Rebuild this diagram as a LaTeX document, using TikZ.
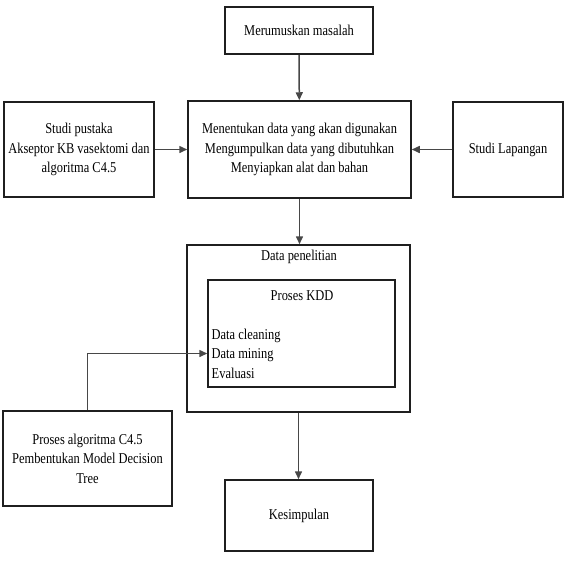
\documentclass[tikz,border=0pt]{standalone}
\usepackage{fontspec}
\setmainfont{Liberation Serif}[FakeStretch=0.83]
\usetikzlibrary{arrows.meta}
\begin{document}
\begin{tikzpicture}[x=1pt,y=-1pt,
  txt/.style={font=\fontsize{15}{19.5}\selectfont, inner sep=0pt},
  box/.style={txt, draw=black!88, line width=1.5pt, align=center},
  arr/.style={draw=black!72, line width=1.5pt, -{Triangle[length=8pt,width=7pt]}}]
\useasboundingbox (0,0) rectangle (568,574);
\node[box, minimum width=148pt, minimum height=47pt] (top) at (299,30.5) {Merumuskan masalah};
\node[box, minimum width=223pt, minimum height=97pt] (mid) at (299.5,149.5)
  {Menentukan data yang akan digunakan\\Mengumpulkan data yang dibutuhkan\\Menyiapkan alat dan bahan};
\node[box, minimum width=150pt, minimum height=95pt] (left) at (79,149.5)
  {Studi pustaka\\Akseptor KB vasektomi dan\\algoritma C4.5};
\node[box, minimum width=110pt, minimum height=95pt] (right) at (508,149.5) {Studi Lapangan};
\node[box, minimum width=223pt, minimum height=167pt] (outer) at (298.5,328.5) {};
\node[txt] (dp) at (299,257) {Data penelitian};
\node[box, minimum width=187pt, minimum height=107pt] (inner) at (301.5,333.5) {};
\node[txt] (kdd) at (302,296) {Proses KDD};
\node[txt, align=left, anchor=west] (list) at (211.5,353.5) {Data cleaning\\Data mining\\Evaluasi};
\node[box, minimum width=169pt, minimum height=95pt] (bl) at (87.5,458.5)
  {Proses algoritma C4.5\\Pembentukan Model Decision\\Tree};
\node[box, minimum width=148pt, minimum height=71pt] (kes) at (299,515.5) {Kesimpulan};
\coordinate (dmin) at (inner.west |- list.west);
\draw[arr] (top) -- (mid);
\draw[arr] (left) -- (mid);
\draw[arr] (right) -- (mid);
\draw[arr] (mid.south) -- (mid.south |- outer.north);
\draw[arr] (outer.south) -- (outer.south |- kes.north);
\draw[arr] (bl.north) |- (dmin);
\end{tikzpicture}
\end{document}
